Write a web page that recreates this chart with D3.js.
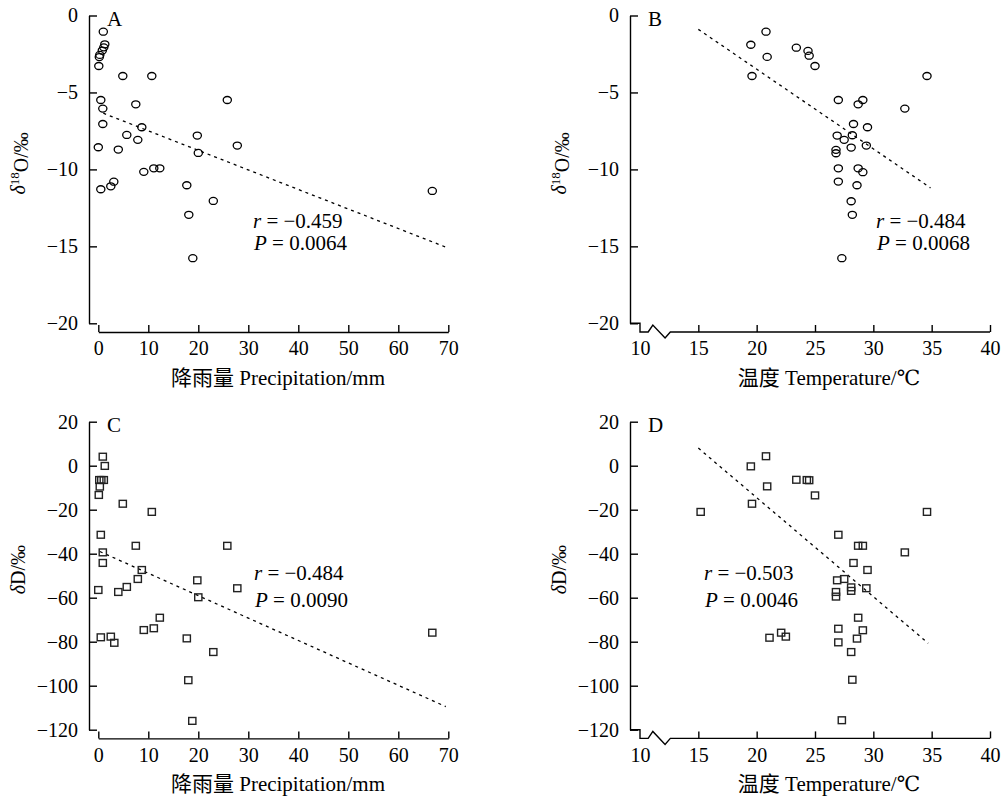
<!DOCTYPE html>
<html>
<head>
<meta charset="utf-8">
<script src="https://cdn.jsdelivr.net/npm/d3@7"></script>
<style>
  body { margin: 0; background: #fff; }
  svg text { font-family: "Times New Roman", "Liberation Serif", "DejaVu Serif", "Noto Sans CJK SC", serif; fill: #000; }
</style>
</head>
<body>
<div class="chart"></div>
<script>
// Panel A: precipitation vs d18O
var precipA = [1.0, 1.3, 1.1, 0.8, 0.3, 0.2, 0.1, 4.9, 10.7, 0.5, 25.8, 0.9, 7.5, 0.9, 8.7, 5.7, 7.9, 19.8, 27.8, 0, 4.0, 20.0, 9.1, 11.1, 12.3, 0.5, 2.5, 3.1, 17.7, 23.0, 18.1, 18.9, 66.8];
var d18OA = [-1.05, -1.87, -2.07, -2.28, -2.56, -2.7, -3.28, -3.93, -3.93, -5.49, -5.49, -6.05, -5.77, -7.05, -7.26, -7.76, -8.08, -7.8, -8.45, -8.56, -8.71, -8.93, -10.16, -9.93, -9.93, -11.29, -11.1, -10.8, -11.03, -12.05, -12.95, -15.77, -11.4];

// Panel B: temperature vs d18O
var tempB = [20.8, 19.5, 20.9, 23.4, 24.4, 24.5, 25.0, 19.6, 34.6, 27.0, 29.1, 28.7, 32.7, 28.3, 29.5, 26.9, 28.2, 27.5, 29.4, 28.1, 26.8, 26.8, 27.0, 28.7, 29.1, 27.0, 28.6, 28.1, 28.2, 27.3];
var d18OB = [-1.05, -1.9, -2.69, -2.09, -2.3, -2.61, -3.28, -3.93, -3.93, -5.49, -5.49, -5.77, -6.05, -7.05, -7.26, -7.8, -7.78, -8.08, -8.45, -8.58, -8.73, -8.95, -9.93, -9.93, -10.18, -10.79, -11.03, -12.07, -12.95, -15.77];

// Panel C: precipitation vs dD
var precipC = [0.9, 1.3, 0.2, 0.6, 1.1, 0.3, 0.1, 4.9, 10.7, 0.5, 7.5, 25.8, 0.9, 0.9, 8.7, 19.8, 7.9, 5.7, 4.0, 0, 27.8, 20.0, 12.3, 9.1, 11.1, 0.5, 2.5, 3.2, 17.7, 18.0, 18.8, 23.0, 66.8];
var dDC = [4.1, -0.1, -6.5, -6.5, -6.5, -9.5, -13.3, -17.3, -21.0, -31.4, -36.4, -36.4, -39.4, -44.2, -47.4, -52.1, -51.5, -55.1, -57.4, -56.5, -55.7, -59.8, -69.1, -74.7, -73.9, -78.0, -77.7, -80.5, -78.5, -97.5, -116, -84.7, -75.9];

// Panel D: temperature vs dD
var tempD = [20.8, 19.5, 20.9, 23.4, 24.3, 24.5, 25.0, 19.6, 15.2, 34.6, 27.0, 28.7, 29.1, 32.7, 28.3, 29.5, 26.9, 27.5, 28.1, 29.4, 28.1, 26.8, 26.8, 28.7, 27.0, 29.1, 27.0, 28.6, 28.1, 28.2, 27.3, 21.1, 22.1, 22.5];
var dDD = [4.3, -0.3, -9.4, -6.4, -6.5, -6.6, -13.5, -17.3, -21.0, -21.0, -31.4, -36.4, -36.4, -39.4, -44.2, -47.4, -52.1, -51.5, -55.3, -55.7, -56.9, -57.4, -59.5, -69.1, -74.1, -74.8, -80.3, -78.6, -84.7, -97.3, -115.7, -78.2, -75.9, -77.7];

// regression lines (end points in data units)
var fitA = { x: [1, 69.5], y: [-6.35, -15.05] };
var fitB = { x: [15, 34.9], y: [-0.9, -11.2] };
var fitC = { x: [0.3, 69.5], y: [-39, -109.5] };
var fitD = { x: [15, 34.7], y: [8, -80.7] };

// tick labels
var precipTicks = [0, 10, 20, 30, 40, 50, 60, 70];
var tempTicks = [10, 15, 20, 25, 30, 35, 40];
var d18OTicks = [0, -5, -10, -15, -20];
var dDTicks = [20, 0, -20, -40, -60, -80, -100, -120];

var serif = "'Times New Roman', 'Liberation Serif', 'DejaVu Serif', 'Noto Sans CJK SC', serif";

var svg = d3.select(".chart").append("svg")
  .attr("width", 1001)
  .attr("height", 802);

var panels = [
  { label: "A", x: precipA, y: d18OA, fit: fitA, mark: "circle", xDom: [0, 70], xTicks: precipTicks,
    yDom: [-20, 0], yTicks: d18OTicks, left: 89, xr: [98.3, 448.3], top: 15.5, bottom: 323.3,
    r: "\u22120.459", p: "0.0064", sx: 253, sy: 228, gap: 22, xTitle: "降雨量 Precipitation/mm", xtc: 278, yTitle: "O" },
  { label: "B", x: tempB, y: d18OB, fit: fitB, mark: "circle", xDom: [10, 40], xTicks: tempTicks,
    yDom: [-20, 0], yTicks: d18OTicks, left: 630, xr: [640, 990], top: 15.5, bottom: 323.3, brk: true,
    r: "\u22120.484", p: "0.0068", sx: 876, sy: 228, gap: 22, xTitle: "温度 Temperature/℃", xtc: 829, yTitle: "O" },
  { label: "C", x: precipC, y: dDC, fit: fitC, mark: "square", xDom: [0, 70], xTicks: precipTicks,
    yDom: [-120, 20], yTicks: dDTicks, left: 89, xr: [98.3, 448.3], top: 421.7, bottom: 729.7,
    r: "\u22120.484", p: "0.0090", sx: 254, sy: 580, gap: 27, xTitle: "降雨量 Precipitation/mm", xtc: 278, yTitle: "D" },
  { label: "D", x: tempD, y: dDD, fit: fitD, mark: "square", xDom: [10, 40], xTicks: tempTicks,
    yDom: [-120, 20], yTicks: dDTicks, left: 630, xr: [640, 990], top: 421.7, bottom: 729.7, brk: true,
    r: "\u22120.503", p: "0.0046", sx: 704, sy: 580, gap: 27, xTitle: "温度 Temperature/℃", xtc: 829, yTitle: "D" }
];

panels.forEach(function(p) {
  var g = svg.append("g").attr("font-family", serif);
  var axisY = p.bottom + 8.7;

  var xScale = d3.scaleLinear().domain(p.xDom).range(p.xr);
  var yScale = d3.scaleLinear().domain(p.yDom).range([p.bottom, p.top]);

  // y axis
  var yAxis = g.append("g")
    .attr("transform", `translate(${p.left},0)`)
    .call(d3.axisLeft(yScale).tickValues(p.yTicks).tickSizeInner(-8).tickSizeOuter(0).tickPadding(11));

  // x axis
  var xAxis = g.append("g")
    .attr("transform", `translate(0,${axisY})`)
    .call(d3.axisBottom(xScale).tickValues(p.xTicks).tickSizeInner(-7).tickSizeOuter(0).tickPadding(9));

  [yAxis, xAxis].forEach(function(a) {
    a.attr("font-family", serif).attr("font-size", 20);
    a.selectAll("path, line").attr("stroke", "#000").attr("stroke-width", 1.4);
    a.selectAll("text").attr("fill", "#000");
  });

  if (p.brk) {
    // axis break between 10 and 15
    xAxis.select(".domain").remove();
    xAxis.selectAll(".tick").filter(d => d === 10).select("line").remove();
    var bx = [10.7, 11.1, 12.15, 12.6].map(xScale);
    g.append("path")
      .attr("d", `M${p.left},${p.bottom}H${xScale(10)}V${axisY}H${bx[0]}L${bx[1]},${axisY - 7}L${bx[2]},${axisY + 6}L${bx[3]},${axisY}H${xScale(40)}`)
      .attr("fill", "none")
      .attr("stroke", "#000")
      .attr("stroke-width", 1.4);
  }

  // regression line
  g.append("line")
    .attr("x1", xScale(p.fit.x[0]))
    .attr("y1", yScale(p.fit.y[0]))
    .attr("x2", xScale(p.fit.x[1]))
    .attr("y2", yScale(p.fit.y[1]))
    .attr("stroke", "#000")
    .attr("stroke-width", 1.3)
    .attr("stroke-dasharray", "3,4");

  // points
  var pts = p.x.map((v, i) => ({ x: v, y: p.y[i] }));
  if (p.mark === "circle") {
    g.selectAll(".pt").data(pts).enter().append("ellipse")
      .attr("class", "pt")
      .attr("cx", d => xScale(d.x))
      .attr("cy", d => yScale(d.y))
      .attr("rx", 4.1)
      .attr("ry", 3.5)
      .attr("fill", "none")
      .attr("stroke", "#000")
      .attr("stroke-width", 1.3);
  } else {
    g.selectAll(".pt").data(pts).enter().append("rect")
      .attr("class", "pt")
      .attr("x", d => xScale(d.x) - 3.6)
      .attr("y", d => yScale(d.y) - 3.4)
      .attr("width", 7.2)
      .attr("height", 6.8)
      .attr("fill", "none")
      .attr("stroke", "#222")
      .attr("stroke-width", 1.4);
  }

  // panel letter
  g.append("text")
    .attr("x", p.left + 18)
    .attr("y", p.top + 10)
    .attr("font-size", 21)
    .text(p.label);

  // r and P annotation
  var t1 = g.append("text").attr("x", p.sx).attr("y", p.sy).attr("font-size", 21);
  t1.append("tspan").attr("font-style", "italic").text("r");
  t1.append("tspan").text(" = " + p.r);
  var t2 = g.append("text").attr("x", p.sx + 1).attr("y", p.sy + p.gap).attr("font-size", 21);
  t2.append("tspan").attr("font-style", "italic").text("P");
  t2.append("tspan").text(" = " + p.p);

  // x axis title
  g.append("text")
    .attr("x", p.xtc)
    .attr("y", axisY + 53)
    .attr("text-anchor", "middle")
    .attr("font-size", 21)
    .text(p.xTitle);

  // y axis title
  var yt = g.append("text")
    .attr("transform", `translate(${p.left - 64},${(p.top + p.bottom) / 2 - 6}) rotate(-90)`)
    .attr("text-anchor", "middle")
    .attr("font-size", 20);
  yt.append("tspan").attr("font-style", "italic").text("δ");
  if (p.yTitle === "O") {
    yt.append("tspan").attr("dy", "-0.45em").attr("font-size", 13).text("18");
    yt.append("tspan").attr("dy", "0.45em").text("O/‰");
  } else {
    yt.append("tspan").text("D/‰");
  }
});
</script>
</body>
</html>
